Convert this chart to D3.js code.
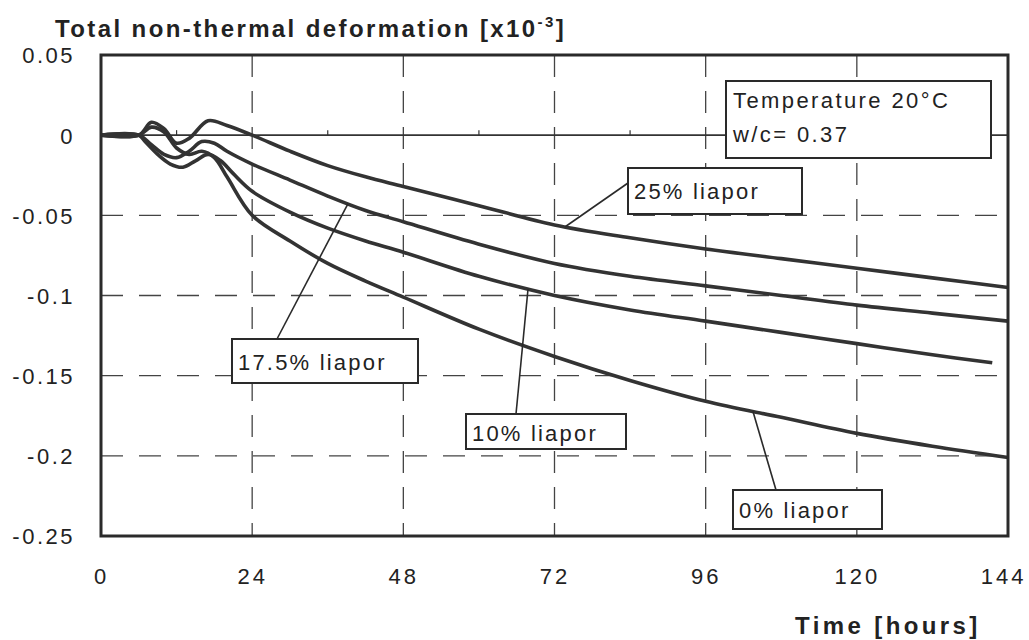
<!DOCTYPE html>
<html lang="en">
<head>
  <meta charset="UTF-8">
  <title>Total non-thermal deformation</title>
  <style>
    body { margin: 0; background: #fff; }
    text { font-family: "Liberation Sans", Arial, sans-serif; fill: #222; }
  </style>
</head>
<body>
  <svg id="chart" width="1029" height="640"></svg>
  <script src="https://d3js.org/d3.v7.min.js"></script>
  <script>
    // time in hours, deformation in x10^-3
    var hours25 = [0, 6, 8, 10, 12, 14, 17, 20, 24, 30, 36, 42, 48, 60, 72, 84, 96, 108, 120, 132, 144];
    var liapor25 = [0, 0, 0.008, 0.004, -0.005, -0.002, 0.009, 0.006, 0.000, -0.010, -0.019, -0.026, -0.032, -0.044, -0.056, -0.064, -0.071, -0.077, -0.083, -0.089, -0.095];

    var hours175 = [0, 6, 8, 10, 12, 14, 16, 18, 20, 24, 30, 36, 42, 48, 60, 72, 84, 96, 108, 120, 132, 144];
    var liapor175 = [0, 0, -0.006, -0.012, -0.014, -0.010, -0.004, -0.005, -0.010, -0.018, -0.028, -0.038, -0.047, -0.054, -0.068, -0.080, -0.088, -0.094, -0.100, -0.106, -0.111, -0.116];

    var hours10 = [0, 6, 7, 9, 11, 13, 15, 17, 19, 21, 24, 30, 36, 42, 48, 60, 72, 84, 96, 108, 120, 132, 141.5];
    var liapor10 = [0, 0, -0.004, -0.012, -0.018, -0.020, -0.016, -0.012, -0.016, -0.024, -0.035, -0.048, -0.058, -0.066, -0.073, -0.088, -0.100, -0.109, -0.116, -0.123, -0.130, -0.137, -0.142];

    var hours0 = [0, 6, 8, 10, 12, 14, 16, 18, 20, 24, 30, 36, 42, 48, 60, 72, 84, 96, 108, 120, 132, 144];
    var liapor0 = [0, 0, 0.005, 0.002, -0.008, -0.012, -0.010, -0.014, -0.026, -0.050, -0.066, -0.080, -0.091, -0.101, -0.121, -0.138, -0.153, -0.166, -0.176, -0.186, -0.194, -0.201];

    var xTicks = [0, 24, 48, 72, 96, 120, 144];
    var yTicks = [0.05, 0, -0.05, -0.1, -0.15, -0.2, -0.25];
    var zeroMinorTicks = [12, 36, 60, 84, 108, 132];

    var seriesNames = ["25% liapor", "17.5% liapor", "10% liapor", "0% liapor"];
    var leaderHours = [73.7, 39.2, 67.8, 103.5];
    var infoLines = ["Temperature 20\u00b0C", "w/c= 0.37"];

    var series = [
      d3.zip(hours25, liapor25),
      d3.zip(hours175, liapor175),
      d3.zip(hours10, liapor10),
      d3.zip(hours0, liapor0)
    ];

    // label boxes (layout only)
    var boxes = [
      {x: 628, y: 168, w: 174, h: 46, tx: 634, ty: 199},
      {x: 232, y: 339, w: 186, h: 44, tx: 238, ty: 370},
      {x: 466, y: 414, w: 160, h: 35, tx: 472, ty: 441},
      {x: 733, y: 490, w: 149, h: 39, tx: 739, ty: 518}
    ];

    var svg = d3.select("#chart");
    var plotLeft = 101, plotRight = 1008, plotTop = 55, plotBottom = 536;
    var ink = "#2a2a2a";

    var x = d3.scaleLinear().domain([0, 144]).range([plotLeft, plotRight]);
    var y = d3.scaleLinear().domain([-0.25, 0.05]).range([plotBottom, plotTop]);

    // dashed grid
    var grid = svg.append("g");
    grid.selectAll("line.v")
      .data(xTicks.filter(d => d > 0 && d < 144))
      .enter().append("line")
      .attr("x1", d => x(d)).attr("x2", d => x(d))
      .attr("y1", plotTop).attr("y2", plotBottom)
      .attr("stroke", "#444").attr("stroke-width", 1.3)
      .attr("stroke-dasharray", "22,14");
    grid.selectAll("line.h")
      .data(yTicks.filter(d => d < 0 && d > -0.25))
      .enter().append("line")
      .attr("x1", plotLeft).attr("x2", plotRight)
      .attr("y1", d => y(d)).attr("y2", d => y(d))
      .attr("stroke", "#444").attr("stroke-width", 1.3)
      .attr("stroke-dasharray", "22,16");

    // zero line, solid with small ticks
    svg.append("line")
      .attr("x1", plotLeft).attr("x2", plotRight)
      .attr("y1", y(0)).attr("y2", y(0))
      .attr("stroke", "#333").attr("stroke-width", 1.6);
    svg.selectAll("line.minor")
      .data(zeroMinorTicks)
      .enter().append("line")
      .attr("x1", d => x(d)).attr("x2", d => x(d))
      .attr("y1", y(0)).attr("y2", y(0) - 5)
      .attr("stroke", "#333").attr("stroke-width", 1.2);

    // curves
    var line = d3.line()
      .x(d => x(d[0]))
      .y(d => y(d[1]))
      .curve(d3.curveCatmullRom.alpha(0.5));

    svg.append("g").selectAll("path")
      .data(series)
      .enter().append("path")
      .attr("d", line)
      .attr("fill", "none")
      .attr("stroke", "#333")
      .attr("stroke-width", 3.6)
      .attr("stroke-linejoin", "round");

    // frame
    svg.append("rect")
      .attr("x", plotLeft).attr("y", plotTop)
      .attr("width", plotRight - plotLeft).attr("height", plotBottom - plotTop)
      .attr("fill", "none").attr("stroke", ink).attr("stroke-width", 3);

    // axes labels (tick text only)
    var yAxis = d3.axisLeft(y).tickValues(yTicks).tickSize(0).tickPadding(26)
      .tickFormat(d => d === 0 ? "0" : String(d));
    var gy = svg.append("g").attr("transform", "translate(" + plotLeft + ",0)").call(yAxis);
    gy.select(".domain").remove();
    gy.selectAll("text")
      .style("font-size", "22px").style("letter-spacing", "2.5px")
      .attr("fill", ink).attr("dy", "0.36em");

    var xAxis = d3.axisBottom(x).tickValues(xTicks).tickSize(0).tickPadding(32);
    var gx = svg.append("g").attr("transform", "translate(0," + plotBottom + ")").call(xAxis);
    gx.select(".domain").remove();
    gx.selectAll("text")
      .style("font-size", "22px").style("letter-spacing", "3px")
      .attr("fill", ink);
    // last label sits against the page edge
    gx.selectAll("text").filter(d => d === 144)
      .attr("text-anchor", "end").attr("dx", 18);

    // titles
    var title = svg.append("text")
      .attr("x", 55).attr("y", 37)
      .style("font-size", "24px").style("font-weight", "bold")
      .style("letter-spacing", "2.4px")
      .text("Total non-thermal deformation [x10");
    title.append("tspan").attr("dy", -10).style("font-size", "15px").text("-3");
    title.append("tspan").attr("dy", 10).text("]");

    svg.append("text")
      .attr("x", 795).attr("y", 634)
      .style("font-size", "24px").style("font-weight", "bold")
      .style("letter-spacing", "3.4px")
      .text("Time [hours]");

    // info box
    svg.append("rect")
      .attr("x", 726).attr("y", 81).attr("width", 265).attr("height", 77)
      .attr("fill", "#fff").attr("stroke", ink).attr("stroke-width", 2);
    svg.selectAll("text.info")
      .data(infoLines)
      .enter().append("text")
      .attr("x", 733).attr("y", (d, i) => 108 + i * 34)
      .style("font-size", "22px").style("letter-spacing", "2.4px")
      .text(d => d);

    // value on a series at an hour, linear between the drawn points
    function valueAt(data, h) {
      var i = d3.bisector(d => d[0]).left(data, h);
      if (i <= 0) return data[0][1];
      if (i >= data.length) return data[data.length - 1][1];
      var a = data[i - 1], b = data[i];
      return a[1] + (b[1] - a[1]) * (h - a[0]) / (b[0] - a[0]);
    }

    // leaders and label boxes
    seriesNames.forEach(function(name, i) {
      var b = boxes[i];
      var hx = leaderHours[i];
      var px = x(hx), py = y(valueAt(series[i], hx));
      var sx, sy;
      if (i === 0) { sx = b.x; sy = b.y + 15; }
      else if (i === 3) { sx = b.x + 43; sy = b.y; }
      else if (i === 2) { sx = b.x + 50; sy = b.y; }
      else { sx = b.x + 45; sy = b.y; }
      svg.append("line")
        .attr("x1", sx).attr("y1", sy).attr("x2", px).attr("y2", py)
        .attr("stroke", ink).attr("stroke-width", 1.6);
      svg.append("rect")
        .attr("x", b.x).attr("y", b.y).attr("width", b.w).attr("height", b.h)
        .attr("fill", "#fff").attr("stroke", ink).attr("stroke-width", 2);
      svg.append("text")
        .attr("x", b.tx).attr("y", b.ty)
        .style("font-size", "22px").style("letter-spacing", "2.2px")
        .text(name);
    });
  </script>
</body>
</html>
